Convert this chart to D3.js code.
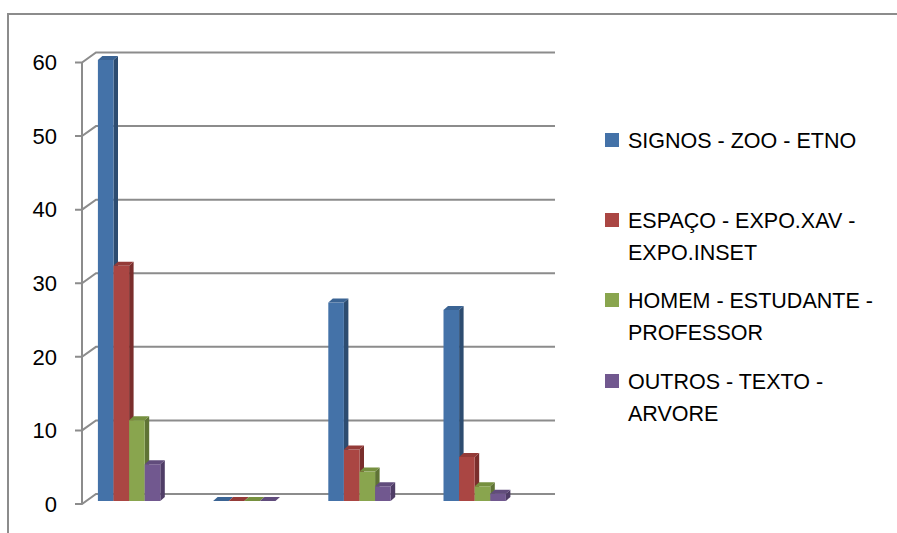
<!DOCTYPE html>
<html>
<head>
<meta charset="utf-8">
<style>
  body { margin: 0; background: #fff; }
  text { font-family: "Liberation Sans", Arial, sans-serif; fill: #000; }
</style>
</head>
<body>
  <svg id="svg" width="897" height="533"></svg>

  <script src="https://cdn.jsdelivr.net/npm/d3@7/dist/d3.min.js"></script>
  <script type="text/javascript">
  // data
  const categories = ["1", "2", "3", "4"];
  const series = ["SIGNOS - ZOO - ETNO", "ESPAÇO - EXPO.XAV - EXPO.INSET",
                  "HOMEM - ESTUDANTE - PROFESSOR", "OUTROS - TEXTO - ARVORE"];
  const legendLines = [["SIGNOS - ZOO - ETNO"], ["ESPAÇO - EXPO.XAV -", "EXPO.INSET"],
                       ["HOMEM - ESTUDANTE -", "PROFESSOR"], ["OUTROS - TEXTO -", "ARVORE"]];
  const signos  = [60, 0, 27, 26];
  const espaco  = [32, 0, 7, 6];
  const homem   = [11, 0, 4, 2];
  const outros  = [5, 0, 2, 1];
  const yTicks  = [0, 10, 20, 30, 40, 50, 60];

  const values = [signos, espaco, homem, outros];
  const colors = [
    {front: "#4472a8", side: "#2d4c70", top: "#3b6494"},
    {front: "#aa4643", side: "#7a2e2c", top: "#943b38"},
    {front: "#89a54e", side: "#5f7335", top: "#76903f"},
    {front: "#71588f", side: "#4f3d66", top: "#614c7c"}
  ];

  const svg = d3.select("#svg");
  const grey = "#8c8c8c";

  // outer frame (cropped on right and bottom)
  svg.append("path")
    .attr("d", d3.line()([[8, 533], [8, 14], [897, 14]]))
    .attr("fill", "none").attr("stroke", grey).attr("stroke-width", 2);

  // value scales: axis (front), bars (middle depth)
  const yAxis = d3.scaleLinear().domain([0, 60]).range([504, 62.5]);
  const yBar = d3.scaleLinear().domain([0, 60]).range([501, 60]);
  const wall = {dx: 14, dy: -10};
  const depth = {dx: 4.5, dy: -4};
  const axisX = 82, gridEnd = 555;

  // gridlines with the slanted joins to the axis
  svg.append("g").selectAll("path").data(yTicks).join("path")
    .attr("d", d => d3.line()([[axisX - 7, yAxis(d)], [axisX, yAxis(d)],
                               [axisX + wall.dx, yAxis(d) + wall.dy], [gridEnd, yAxis(d) + wall.dy]]))
    .attr("fill", "none").attr("stroke", grey).attr("stroke-width", 2);

  svg.append("line")
    .attr("x1", axisX).attr("x2", axisX)
    .attr("y1", yAxis(60)).attr("y2", yAxis(0))
    .attr("stroke", grey).attr("stroke-width", 2);

  svg.append("g").selectAll("text").data(yTicks).join("text")
    .attr("x", 57).attr("y", d => yAxis(d))
    .attr("dy", "0.35em").attr("text-anchor", "end")
    .style("font-size", "22px")
    .text(d => d);

  // bars
  const x0 = d3.scaleBand().domain(categories).range([71.5, 532.3]);
  const groupW = 62.4;
  const x1 = d3.scaleBand().domain(series).range([0, groupW]);

  const bars = [];
  categories.forEach((c, ci) => {
    series.forEach((s, si) => {
      bars.push({x: x0(c) + (x0.bandwidth() - groupW) / 2 + x1(s), w: x1.bandwidth(),
                 v: values[si][ci], col: colors[si]});
    });
  });

  const bg = svg.append("g").selectAll("g").data(bars).join("g");
  bg.append("path")
    .attr("d", d => {
      const xr = d.x + d.w, yt = yBar(d.v), yb = yBar(0);
      return d3.line()([[xr, yb], [xr + depth.dx, yb + depth.dy],
                        [xr + depth.dx, yt + depth.dy], [xr, yt]]) + "Z";
    })
    .attr("fill", d => d.col.side);
  bg.append("rect")
    .attr("x", d => d.x).attr("y", d => yBar(d.v))
    .attr("width", d => d.w).attr("height", d => yBar(0) - yBar(d.v))
    .attr("fill", d => d.col.front);
  bg.append("path")
    .attr("d", d => {
      const yt = yBar(d.v);
      return d3.line()([[d.x, yt], [d.x + d.w, yt], [d.x + d.w + depth.dx, yt + depth.dy],
                        [d.x + depth.dx, yt + depth.dy]]) + "Z";
    })
    .attr("fill", d => d.col.top);

  // legend
  const legendY = [133, 213, 293, 374];
  const lg = svg.append("g").selectAll("g").data(series).join("g")
    .attr("transform", (d, i) => `translate(605,${legendY[i]})`);
  lg.append("rect").attr("width", 14).attr("height", 14)
    .attr("fill", (d, i) => colors[i].front);
  lg.append("text")
    .style("font-size", "21.5px")
    .selectAll("tspan").data((d, i) => legendLines[i]).join("tspan")
    .attr("x", 23).attr("y", (d, j) => 15 + j * 32)
    .text(d => d);
  </script>
</body>
</html>
